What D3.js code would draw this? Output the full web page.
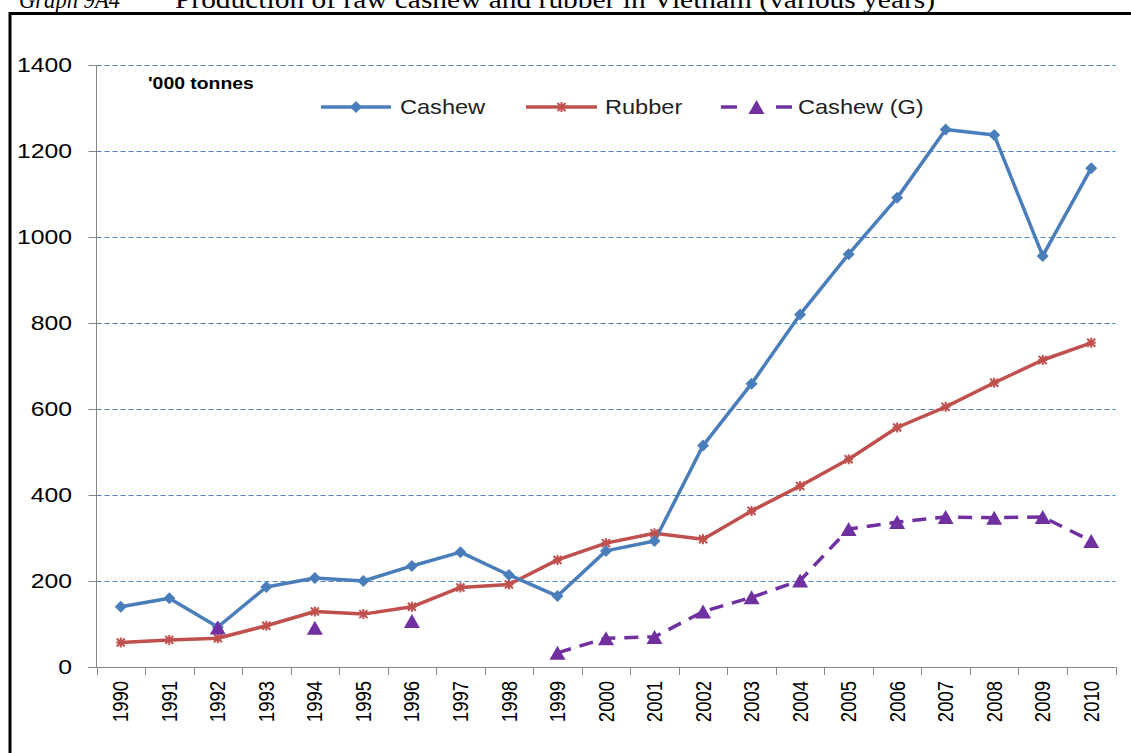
<!DOCTYPE html>
<html>
<head>
<meta charset="utf-8">
<script src="https://cdn.jsdelivr.net/npm/d3@7"></script>
<style>
  html, body { margin: 0; padding: 0; background: #fff; }
  svg { display: block; }
</style>
</head>
<body>
<svg id="chart" width="1131" height="753"></svg>
<script>
const years = ["1990","1991","1992","1993","1994","1995","1996","1997","1998","1999","2000",
               "2001","2002","2003","2004","2005","2006","2007","2008","2009","2010"];
const cashew = [140,160,93,186,207,200,235,267,214,165,270,293,515,659,820,960,1091,1250,1237,956,1160];
const rubber = [57,63,67,96,129,123,140,185,192,249,288,311,297,363,421,483,557,605,661,714,754];
const cashewG = [null,null,92,null,91,null,107,null,null,33,67,70,129,162,201,321,337,349,347,349,293];
const yTicks = [0,200,400,600,800,1000,1200,1400];
const seriesNames = ["Cashew","Rubber","Cashew (G)"];
const unitLabel = "'000 tonnes";
const titleLead = "Graph 9A4";
const titleText = "Production of raw cashew and rubber in Vietnam (various years)";

const colCashew = "#4A7EBB", colRubber = "#C0504D", colG = "#7030A0";
const svg = d3.select("#chart");

// Title (cut off at top, as in the reference) and frame
svg.append("text").attr("x", 19).attr("y", 8)
  .attr("font-family", "Liberation Serif").attr("font-style", "italic").attr("font-size", 25)
  .attr("textLength", 101).attr("lengthAdjust", "spacingAndGlyphs").text(titleLead);
svg.append("text").attr("x", 175).attr("y", 8)
  .attr("font-family", "Liberation Serif").attr("font-size", 25)
  .attr("textLength", 760).attr("lengthAdjust", "spacingAndGlyphs").text(titleText);
svg.append("path").attr("d", "M10,760L10,13.5L1140,13.5")
  .attr("fill", "none").attr("stroke", "#000").attr("stroke-width", 3);

const x = d3.scaleBand().domain(years).range([96.5, 1115.5]).padding(0);
const y = d3.scaleLinear().domain([0, 1400]).range([667, 65]);
const cx = d => x(d) + x.bandwidth() / 2;

// Gridlines
svg.append("g").selectAll("line").data(yTicks.filter(t => t > 0)).join("line")
  .attr("x1", 96.5).attr("x2", 1115.5)
  .attr("y1", d => Math.round(y(d)) + 0.5).attr("y2", d => Math.round(y(d)) + 0.5)
  .attr("stroke", "#4F81BD").attr("stroke-width", 1).attr("stroke-dasharray", "5,3");

// Y axis
const yAxis = svg.append("g").attr("transform", "translate(96.5,0)")
  .call(d3.axisLeft(y).tickValues(yTicks).tickSize(8).tickSizeOuter(0).tickFormat(""));
yAxis.selectAll("path,line").attr("stroke", "#868686");
yAxis.select(".domain").attr("d", `M0,${y(1400)}V${y(0)}`);

svg.append("g").selectAll("text").data(yTicks).join("text")
  .attr("transform", d => `translate(72,${y(d)}) scale(1.18,1)`)
  .attr("text-anchor", "end").attr("dominant-baseline", "central")
  .attr("font-family", "Liberation Sans").attr("font-size", 21).attr("fill", "#000")
  .text(d => d);

// X axis
const xg = svg.append("g");
xg.append("line").attr("x1", 88).attr("x2", 1115.5)
  .attr("y1", Math.round(y(0)) + 0.5).attr("y2", Math.round(y(0)) + 0.5).attr("stroke", "#868686");
const bounds = years.map(d => x(d)).concat([x(years[years.length - 1]) + x.bandwidth()]);
xg.selectAll("line.tick").data(bounds).join("line").attr("class", "tick")
  .attr("x1", d => Math.round(d) + 0.5).attr("x2", d => Math.round(d) + 0.5)
  .attr("y1", y(0)).attr("y2", y(0) + 8).attr("stroke", "#868686");
xg.selectAll("text").data(years).join("text")
  .attr("transform", d => `translate(${cx(d)},681) scale(1.18,1) rotate(-90)`)
  .attr("text-anchor", "end").attr("dominant-baseline", "central")
  .attr("font-family", "Liberation Sans").attr("font-size", 18.5).attr("fill", "#000")
  .text(d => d);

// Lines
const line = d3.line().defined(d => d.v != null).x(d => cx(d.k)).y(d => y(d.v));
const toPts = arr => years.map((k, i) => ({ k, v: arr[i] }));

svg.append("path").datum(toPts(rubber)).attr("d", line)
  .attr("fill", "none").attr("stroke", colRubber).attr("stroke-width", 3.5).attr("stroke-linejoin", "round");
svg.append("path").datum(toPts(cashew)).attr("d", line)
  .attr("fill", "none").attr("stroke", colCashew).attr("stroke-width", 3.5).attr("stroke-linejoin", "round");
svg.append("path").datum(toPts(cashewG)).attr("d", line)
  .attr("fill", "none").attr("stroke", colG).attr("stroke-width", 3.5).attr("stroke-dasharray", "14,9");

// Markers
const diamond = "M0,-6L6,0L0,6L-6,0Z";
const star = "M-4,-4L4,4M-4,4L4,-4M0,-5L0,5M-4.5,0L4.5,0";
const tri = "M0,-7L8,7L-8,7Z";

svg.append("g").selectAll("path").data(toPts(rubber)).join("path")
  .attr("transform", d => `translate(${cx(d.k)},${y(d.v)})`)
  .attr("d", star).attr("fill", "none").attr("stroke", colRubber).attr("stroke-width", 2);
svg.append("g").selectAll("path").data(toPts(cashew)).join("path")
  .attr("transform", d => `translate(${cx(d.k)},${y(d.v)})`)
  .attr("d", diamond).attr("fill", colCashew);
svg.append("g").selectAll("path").data(toPts(cashewG).filter(d => d.v != null)).join("path")
  .attr("transform", d => `translate(${cx(d.k)},${y(d.v)})`)
  .attr("d", tri).attr("fill", colG);

// Unit label
svg.append("text").attr("transform", "translate(148,83) scale(1.14,1)")
  .attr("dominant-baseline", "central")
  .attr("font-family", "Liberation Sans").attr("font-weight", "bold").attr("font-size", 17)
  .text(unitLabel);

// Legend
const ly = 107;
const leg = svg.append("g");
const legendItems = [
  { name: seriesNames[0], x0: 321, x1: 391, tx: 400, color: colCashew, marker: diamond, fill: colCashew, dash: null },
  { name: seriesNames[1], x0: 526, x1: 597, tx: 605, color: colRubber, marker: star, fill: "none", dash: null },
  { name: seriesNames[2], x0: 721, x1: 792, tx: 798, color: colG, marker: tri, fill: colG, dash: "16,39,16" }
];
legendItems.forEach(it => {
  leg.append("line").attr("x1", it.x0).attr("x2", it.x1).attr("y1", ly).attr("y2", ly)
    .attr("stroke", it.color).attr("stroke-width", 3.5).attr("stroke-dasharray", it.dash);
  leg.append("path").attr("transform", `translate(${(it.x0 + it.x1) / 2},${ly})`)
    .attr("d", it.marker).attr("fill", it.fill)
    .attr("stroke", it.fill === "none" ? it.color : "none").attr("stroke-width", 2);
  leg.append("text").attr("transform", `translate(${it.tx},${ly}) scale(1.15,1)`)
    .attr("dominant-baseline", "central")
    .attr("font-family", "Liberation Sans").attr("font-size", 20.5).attr("fill", "#222")
    .text(it.name);
});
</script>
</body>
</html>
